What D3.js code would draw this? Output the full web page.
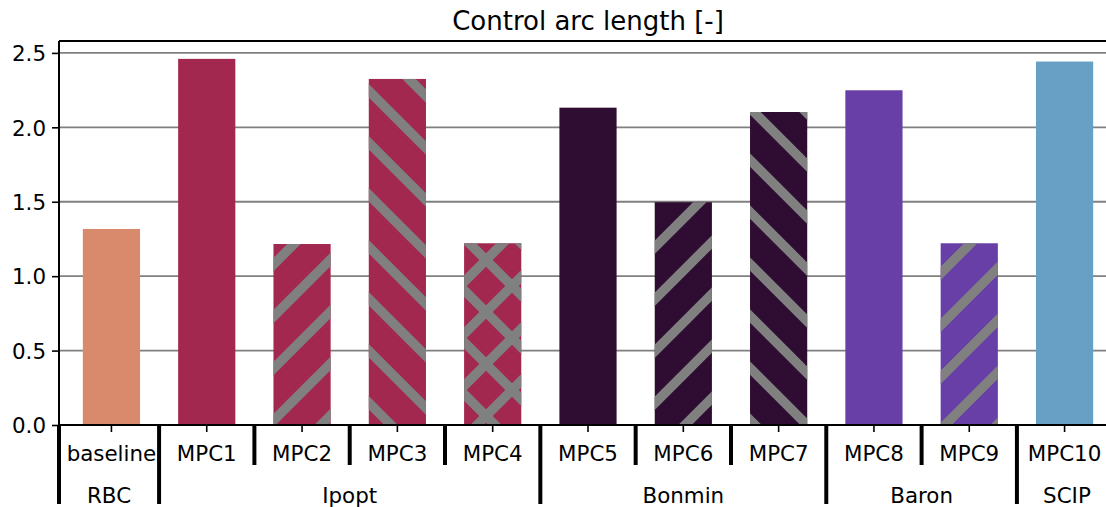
<!DOCTYPE html>
<html>
<head>
<meta charset="utf-8">
<script src="https://cdn.jsdelivr.net/npm/d3@7"></script>
<style>
    body { margin: 0; background: #fff; }
    text { font-family: "DejaVu Sans", sans-serif; fill: #000; }
</style>
</head>
<body>
<div id="chart"></div>
<script>
const width = 1106;
const height = 507;

// chart data
const labels = ['baseline', 'MPC1', 'MPC2', 'MPC3', 'MPC4', 'MPC5', 'MPC6', 'MPC7', 'MPC8', 'MPC9', 'MPC10'];
const solvers = ['RBC', 'Ipopt', 'Ipopt', 'Ipopt', 'Ipopt', 'Bonmin', 'Bonmin', 'Bonmin', 'Baron', 'Baron', 'SCIP'];
const values = [1.317, 2.46, 1.216, 2.325, 1.221, 2.132, 1.497, 2.103, 2.249, 1.221, 2.442];
const hatches = ['', '', '/', '\\', 'x', '', '/', '\\', '', '/', ''];
const yTicks = [0.0, 0.5, 1.0, 1.5, 2.0, 2.5];

const solverColor = d3.scaleOrdinal()
    .domain(['RBC', 'Ipopt', 'Bonmin', 'Baron', 'SCIP'])
    .range(['#da8a6c', '#a3284f', '#2f0c31', '#673fa6', '#67a0c4']);

const fontSize = '21.4px';
const margin = { top: 41, left: 59, bottom: 82 };
const axRight = 1117; // axes runs a little past the picture edge

const x = d3.scaleBand()
    .domain(labels)
    .range([margin.left, axRight])
    .paddingInner(0.4)
    .paddingOuter(0.25);

const y = d3.scaleLinear()
    .domain([0, 2.58])
    .range([height - margin.bottom, margin.top]);

const svg = d3.select('#chart').append('svg')
    .attr('width', width)
    .attr('height', height);

// hatch patterns, grey lines on transparent ground
const P = 52, off = 18;
const defs = svg.append('defs');

function hatchPath(kind) {
    let d = '';
    if (kind === '/' || kind === 'x') {
        for (let k = -1; k <= 2; k++) {
            const c = off + k * P;
            d += `M${c + P / 2},${-P / 2}L${c - 1.5 * P},${1.5 * P}`;
        }
    }
    if (kind === '\\' || kind === 'x') {
        for (let k = -2; k <= 1; k++) {
            const c = off + k * P;
            d += `M${c - P / 2},${-P / 2}L${c + 1.5 * P},${1.5 * P}`;
        }
    }
    return d;
}

const hatchIds = { '/': 'hatch-fwd', '\\': 'hatch-back', 'x': 'hatch-cross' };
Object.entries(hatchIds).forEach(([kind, id]) => {
    defs.append('pattern')
        .attr('id', id)
        .attr('patternUnits', 'userSpaceOnUse')
        .attr('x', 0)
        .attr('y', 0)
        .attr('width', P)
        .attr('height', P)
        .append('path')
        .attr('d', hatchPath(kind))
        .attr('stroke', '#808080')
        .attr('stroke-width', 9.5)
        .attr('fill', 'none');
});

// gridlines behind the bars
svg.append('g')
    .selectAll('line')
    .data(yTicks.filter(d => d > 0))
    .join('line')
    .attr('x1', margin.left)
    .attr('x2', axRight)
    .attr('y1', d => y(d))
    .attr('y2', d => y(d))
    .attr('stroke', '#808080')
    .attr('stroke-width', 1.8);

// bars
const bars = svg.append('g');
bars.selectAll('.bar')
    .data(labels)
    .join('rect')
    .attr('class', 'bar')
    .attr('x', d => x(d))
    .attr('width', x.bandwidth())
    .attr('y', (d, i) => y(values[i]))
    .attr('height', (d, i) => y(0) - y(values[i]))
    .attr('fill', (d, i) => solverColor(solvers[i]));

bars.selectAll('.hatch')
    .data(labels.filter((d, i) => hatches[i] !== ''))
    .join('rect')
    .attr('class', 'hatch')
    .attr('x', d => x(d))
    .attr('width', x.bandwidth())
    .attr('y', d => y(values[labels.indexOf(d)]))
    .attr('height', d => y(0) - y(values[labels.indexOf(d)]))
    .attr('fill', d => `url(#${hatchIds[hatches[labels.indexOf(d)]]})`);

// y axis
const yAxis = svg.append('g')
    .attr('transform', `translate(${margin.left},0)`)
    .call(d3.axisLeft(y).tickValues(yTicks).tickFormat(d3.format('.1f')).tickSize(7).tickPadding(6));
yAxis.select('.domain').remove();
yAxis.selectAll('.tick line').attr('stroke', '#000').attr('stroke-width', 1.6);
yAxis.selectAll('.tick text')
    .attr('font-size', fontSize)
    .attr('font-family', '"DejaVu Sans", sans-serif')
    .attr('dy', '0.36em');

// x axis: small ticks and bar labels
const xAxis = svg.append('g')
    .attr('transform', `translate(0,${y(0)})`)
    .call(d3.axisBottom(x).tickSize(7).tickPadding(14));
xAxis.select('.domain').remove();
xAxis.selectAll('.tick line').attr('stroke', '#000').attr('stroke-width', 1.6);
xAxis.selectAll('.tick text')
    .attr('font-size', fontSize)
    .attr('font-family', '"DejaVu Sans", sans-serif');

// spines
svg.append('line')
    .attr('x1', margin.left).attr('x2', axRight)
    .attr('y1', margin.top).attr('y2', margin.top)
    .attr('stroke', '#000').attr('stroke-width', 2);
svg.append('line')
    .attr('x1', margin.left).attr('x2', margin.left)
    .attr('y1', margin.top).attr('y2', y(0))
    .attr('stroke', '#000').attr('stroke-width', 2);
svg.append('line')
    .attr('x1', margin.left).attr('x2', axRight)
    .attr('y1', y(0)).attr('y2', y(0))
    .attr('stroke', '#000').attr('stroke-width', 2);

// separators between bars and between solver groups
const step = x.step();
const seps = [{ pos: margin.left, long: true }];
for (let i = 0; i < labels.length - 1; i++) {
    seps.push({
        pos: x(labels[i]) + x.bandwidth() / 2 + step / 2,
        long: solvers[i] !== solvers[i + 1]
    });
}
seps.push({ pos: axRight, long: true });

svg.append('g')
    .selectAll('line')
    .data(seps)
    .join('line')
    .attr('x1', d => d.pos)
    .attr('x2', d => d.pos)
    .attr('y1', y(0))
    .attr('y2', d => d.long ? 504 : 465)
    .attr('stroke', '#000')
    .attr('stroke-width', 4);

// solver group labels
const groups = [];
solvers.forEach((s, i) => {
    if (i === 0 || s !== solvers[i - 1]) groups.push({ name: s, first: i, last: i });
    else groups[groups.length - 1].last = i;
});
const sepPos = seps.map(d => d.pos);

svg.append('g')
    .selectAll('text')
    .data(groups)
    .join('text')
    .attr('x', d => (sepPos[d.first] + sepPos[d.last + 1]) / 2)
    .attr('y', 503)
    .attr('text-anchor', 'middle')
    .attr('font-size', fontSize)
    .text(d => d.name);

// title
svg.append('text')
    .attr('x', (margin.left + axRight) / 2)
    .attr('y', 30)
    .attr('text-anchor', 'middle')
    .attr('font-size', '26px')
    .text('Control arc length [-]');
</script>
</body>
</html>
